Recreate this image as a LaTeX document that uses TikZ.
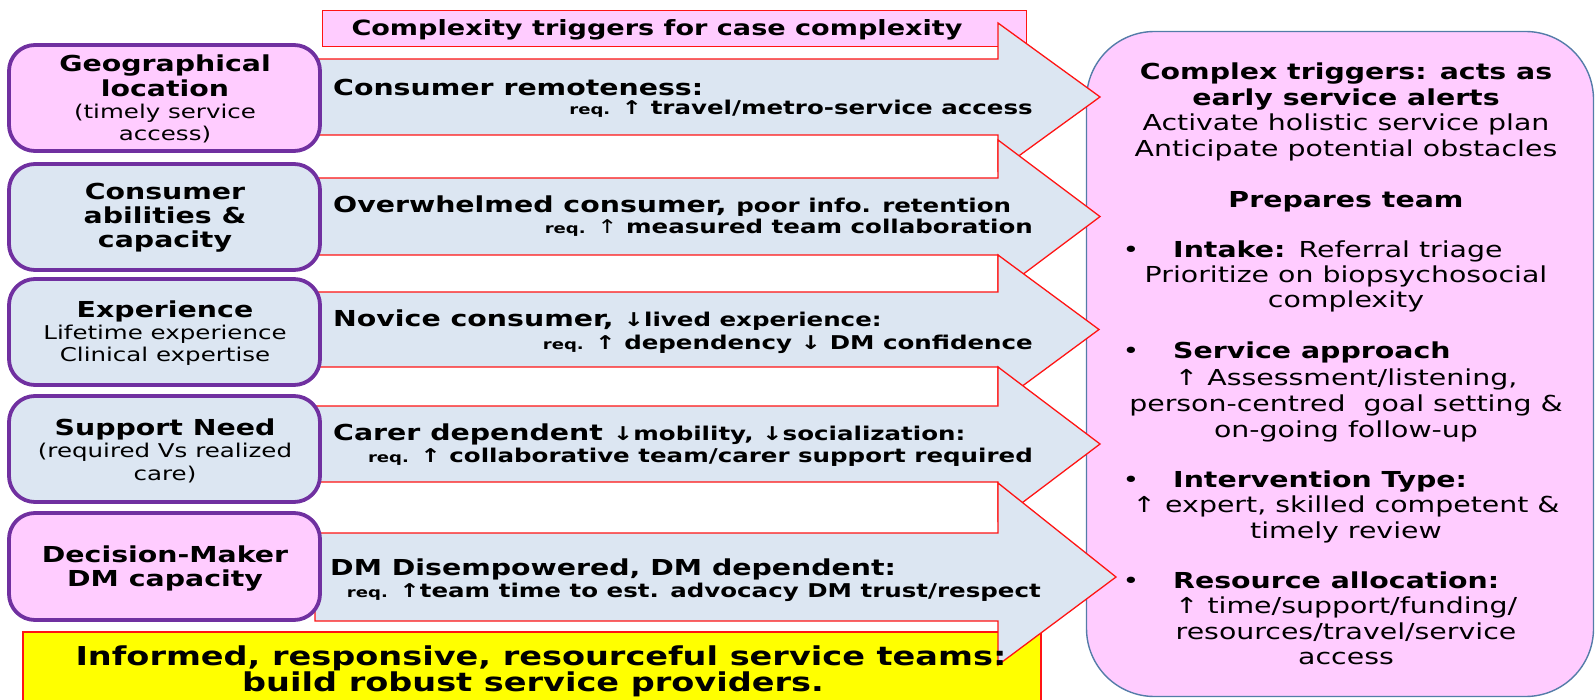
\documentclass[tikz,border=0pt]{standalone}
\usepackage{fontspec}
\setmainfont{DejaVu Sans}[FakeStretch=1.29]
\definecolor{pk}{RGB}{255,204,255}
\definecolor{lb}{RGB}{220,230,242}
\definecolor{rd}{RGB}{255,20,20}
\definecolor{pu}{RGB}{112,48,160}
\definecolor{pb}{RGB}{84,124,168}
\definecolor{yl}{RGB}{255,255,0}
\newcommand\myreq{{\fontsize{14}{16}\selectfont req.}}
\newcommand\mysm{\fontsize{19}{22}\selectfont}
\begin{document}
\begin{tikzpicture}[x=1pt,y=-1pt,
  arrowshape/.style={fill=lb, draw=rd, line width=1.3pt, line join=miter},
  leftbox/.style={draw=pu, line width=3.8pt, rounded corners=26pt, minimum width=311pt, inner sep=0pt},
  redbox/.style={draw=rd, line width=1.3pt, inner sep=0pt},
  bt/.style={font=\fontsize{22}{26}\selectfont\bfseries, anchor=base, inner sep=0pt},
  st/.style={font=\fontsize{19}{22}\selectfont, anchor=base, inner sep=0pt},
  rt/.style={font=\fontsize{22}{26}\selectfont, anchor=base, inner sep=0pt},
  rb/.style={font=\fontsize{22}{26}\selectfont\bfseries, anchor=base west, inner sep=0pt},
  aL/.style={anchor=base west, inner sep=0pt, font=\fontsize{22}{26}\selectfont\bfseries},
  aR/.style={anchor=base east, inner sep=0pt, font=\fontsize{19}{22}\selectfont\bfseries},
  yt/.style={font=\fontsize{26}{30}\selectfont\bfseries, anchor=base, inner sep=0pt}]
\useasboundingbox (0,0) rectangle (1595,700);

% right panel
\node[draw=pb, fill=pk, line width=1.4pt, rounded corners=68pt, minimum width=507pt, minimum height=665pt, inner sep=0pt] (panel) at (1340,364) {};

% title box
\node[redbox, fill=pk, minimum width=704pt, minimum height=36pt] (title) at (674.5,28.5) {};

% yellow box
\node[redbox, fill=yl, minimum width=1018pt, minimum height=80pt] (yb) at (532,672) {};

% arrows
\draw[arrowshape] (315,59) -- (998,59) -- (998,23) -- (1100,97) -- (998,171) -- (998,135) -- (315,135) -- cycle;
\draw[arrowshape] (315,178) -- (998,178) -- (998,140) -- (1100,216.5) -- (998,293) -- (998,255) -- (315,255) -- cycle;
\draw[arrowshape] (315,292) -- (998,292) -- (998,255) -- (1099,329.5) -- (998,404) -- (998,367) -- (315,367) -- cycle;
\draw[arrowshape] (315,406) -- (998,406) -- (998,367) -- (1100,444) -- (998,521) -- (998,482) -- (315,482) -- cycle;
\draw[arrowshape] (315,533) -- (998,533) -- (998,483) -- (1116,577) -- (998,665) -- (998,621) -- (315,621) -- cycle;

% left boxes
\node[leftbox, fill=pk, minimum height=106pt] (b1) at (164.5,98) {};
\node[leftbox, fill=lb, minimum height=106pt] (b2) at (164.5,217) {};
\node[leftbox, fill=lb, minimum height=106pt] (b3) at (164.5,332) {};
\node[leftbox, fill=lb, minimum height=106pt] (b4) at (164.5,449) {};
\node[leftbox, fill=pk, minimum height=107pt] (b5) at (164.5,566.5) {};

% title text
\node[font=\fontsize{21}{24}\selectfont\bfseries, anchor=base, inner sep=0pt] (tt) at (657,36) {Complexity triggers for case complexity};

% left box texts
\node[bt] (b1a) at (165,72) {Geographical};
\node[bt] (b1b) at (165,97) {location};
\node[st] (b1c) at (165,119) {(timely service};
\node[st] (b1d) at (165,141) {access)};
\node[bt] (b2a) at (165,200) {Consumer};
\node[bt] (b2b) at (165,224) {abilities \&};
\node[bt] (b2c) at (165,248) {capacity};
\node[bt] (b3a) at (165,318) {Experience};
\node[st] (b3b) at (165,340) {Lifetime experience};
\node[st] (b3c) at (165,362) {Clinical expertise};
\node[bt] (b4a) at (165,435) {Support Need};
\node[st] (b4b) at (165,457) {(required Vs realized};
\node[st] (b4c) at (165,480) {care)};
\node[bt] (b5a) at (165,562) {Decision-Maker};
\node[bt] (b5b) at (165,586) {DM capacity};

% arrow texts
\node[aL] (a1a) at (333,96) {Consumer remoteness:};
\node[aR] (a1b) at (1033,115) {\myreq{} ↑ travel/metro-service access};
\node[aL] (a2a) at (333,213) {Overwhelmed consumer, {\mysm poor info. retention}};
\node[aR] (a2b) at (1033,234) {\myreq{} {\mdseries ↑} measured team collaboration};
\node[aL] (a3a) at (333,327) {Novice consumer, {\mysm ↓lived experience:}};
\node[aR] (a3b) at (1033,349) {\myreq{} ↑ dependency ↓ DM confidence};
\node[aL] (a4a) at (333,440) {Carer dependent {\mysm ↓mobility, ↓socialization:}};
\node[aR] (a4b) at (1033,462) {\myreq{} ↑ collaborative team/carer support required};
\node[aL] (a5a) at (330,575) {DM Disempowered, DM dependent:};
\node[aR] (a5b) at (1041,597) {\myreq{} ↑team time to est. advocacy DM trust/respect};

% yellow text
\node[yt] (y1) at (541,665) {Informed, responsive, resourceful service teams:};
\node[yt] (y2) at (533,691) {build robust service providers.};

% right panel text
\node[bt] (p1) at (1346,80) {Complex triggers: acts as};
\node[bt] (p2) at (1346,106) {early service alerts};
\node[rt] (p3) at (1346,131) {Activate holistic service plan};
\node[rt] (p4) at (1346,157) {Anticipate potential obstacles};
\node[bt] (p5) at (1346,208) {Prepares team};
\node[rt] (d1) at (1131,258) {•};
\node[rb] (p6) at (1173,258) {Intake: {\mdseries Referral triage}};
\node[rt] (p7) at (1346,283) {Prioritize on biopsychosocial};
\node[rt] (p8) at (1346,308) {complexity};
\node[rt] (d2) at (1131,359) {•};
\node[rb] (p9) at (1173,359) {Service approach};
\node[rt] (p10) at (1346,385) {↑ Assessment/listening,};
\node[rt] (p11) at (1346,411) {person-centred\ \ goal setting \&};
\node[rt] (p12) at (1346,437) {on-going follow-up};
\node[rt] (d3) at (1131,487) {•};
\node[rb] (p13) at (1173,487) {Intervention Type:};
\node[rt] (p14) at (1346,512) {↑ expert, skilled competent \&};
\node[rt] (p15) at (1346,538) {timely review};
\node[rt] (d4) at (1131,588) {•};
\node[rb] (p16) at (1173,588) {Resource allocation:};
\node[rt] (p17) at (1346,613) {↑ time/support/funding/};
\node[rt] (p18) at (1346,639) {resources/travel/service};
\node[rt] (p19) at (1346,664) {access};
\end{tikzpicture}
\end{document}
